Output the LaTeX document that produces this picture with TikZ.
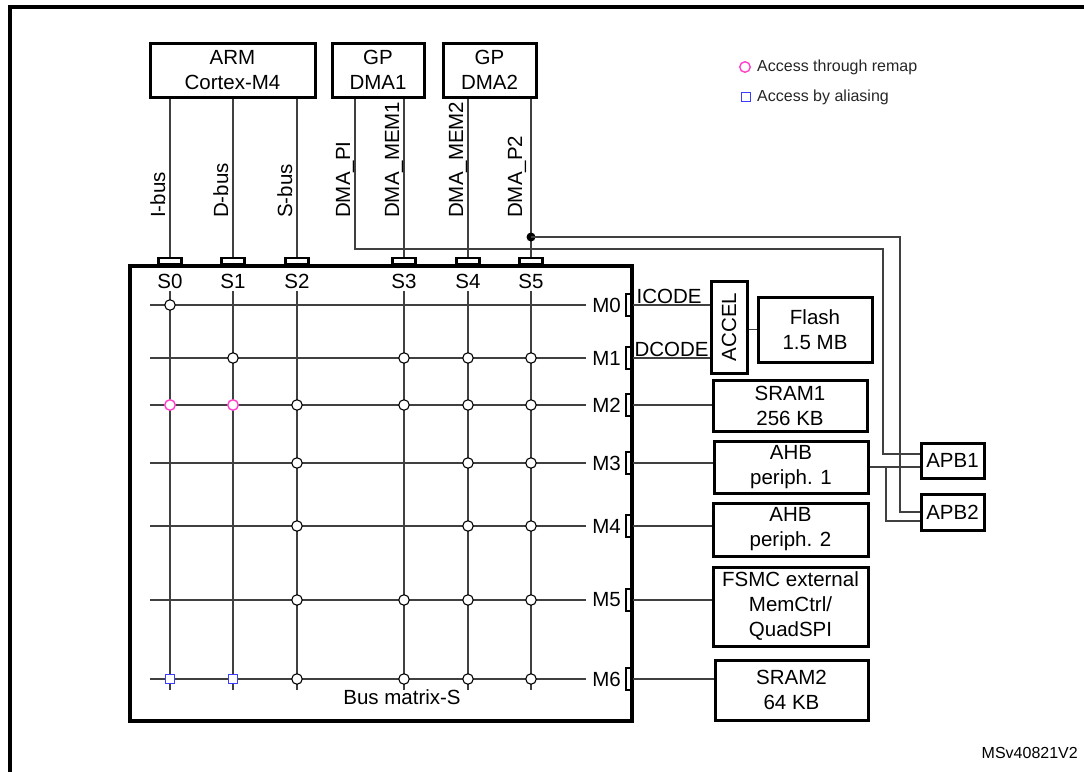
\documentclass[tikz,border=0pt]{standalone}
\usepackage{fontspec}
\setmainfont{Liberation Sans}
\definecolor{remapcol}{RGB}{255,64,200}
\definecolor{aliascol}{RGB}{60,60,255}
\begin{document}
\begin{tikzpicture}[
    x=1pt, y=-1pt,
    lbl/.style={font=\fontsize{20.5}{25}\selectfont, inner sep=0pt},
    keylbl/.style={font=\fontsize{16}{19}\selectfont, inner sep=0pt, text=black!85},
    block/.style={draw, line width=3pt, inner sep=0pt, align=center,
                  font=\fontsize{20.5}{25}\selectfont},
    sport/.style={draw, line width=2.8pt, minimum width=23pt,
                  minimum height=6pt, inner sep=0pt},
    mport/.style={draw, line width=2.8pt, minimum width=6pt,
                  minimum height=22pt, inner sep=0pt},
    wire/.style={line width=1.2pt, color=black!75},
    buslbl/.style={lbl, rotate=90, anchor=base west},
    xing/.style={circle, draw, fill=white, line width=1.1pt,
                 minimum size=10.5pt, inner sep=0pt},
    remap/.style={xing, draw=remapcol, line width=1.4pt},
    alias/.style={rectangle, draw=aliascol, fill=white, line width=1.4pt,
                  minimum size=8.5pt, inner sep=0pt}
]

% --- FRAME ---
\useasboundingbox (0,0) rectangle (1084,771);
\draw[line width=3.5pt] (10,780) -- (10,7) -- (1090,7);

% --- MASTERS ---
\node[block, minimum width=165pt, minimum height=54pt] (arm) at (232.5,70) {ARM\\Cortex-M4};
\node[block, minimum width=92pt, minimum height=54pt] (dmaone) at (378,70) {GP\\DMA1};
\node[block, minimum width=93pt, minimum height=54pt] (dmatwo) at (489.5,70) {GP\\DMA2};

% --- LEGEND ---
\node[remap] (remapkey) at (745,67) {};
\node[keylbl, anchor=west] (remaptxt) at (757,67) {Access through remap};
\node[alias] (aliaskey) at (746,97) {};
\node[keylbl, anchor=west] (aliastxt) at (757,97) {Access by aliasing};

% --- BUS MATRIX ---
\node[draw, line width=3.3pt, minimum width=502pt, minimum height=455pt] (bm) at (381,493.5) {};
\node[lbl] (bmlbl) at (402,697) {Bus matrix-S};

% slave ports on top edge
\foreach \n/\x in {0/170,1/233,2/297,3/404,4/468,5/531}{
  \node[sport] (s\n) at (\x,261) {};
  \node[lbl] (s\n lbl) at (\x,281) {S\n};
  \coordinate (c\n) at (\x,690);
  \draw[wire] ([yshift=-3pt]s\n lbl.south) -- (c\n);
}

% master ports on right edge
\foreach \n/\y in {0/305,1/358,2/405,3/463,4/526,5/600,6/679}{
  \node[mport] (m\n) at (629,\y) {};
  \node[lbl, anchor=east] (m\n lbl) at (621,\y) {M\n};
  \coordinate (r\n) at (150,\y);
  \draw[wire] (r\n) -- ([xshift=-6pt]m\n lbl.west);
}

% crossings
\foreach \c/\r in {0/0, 1/1,3/1,4/1,5/1, 2/2,3/2,4/2,5/2, 2/3,4/3,5/3,
                   2/4,4/4,5/4, 2/5,3/5,4/5,5/5, 2/6,3/6,4/6,5/6}
  \node[xing] (x\c\r) at (s\c |- r\r) {};
\node[remap] (x02) at (s0 |- r2) {};
\node[remap] (x12) at (s1 |- r2) {};
\node[alias] (x06) at (s0 |- r6) {};
\node[alias] (x16) at (s1 |- r6) {};

% --- BUSES FROM MASTERS ---
\draw[wire] (s0.north) -- (s0.north |- arm.south);
\draw[wire] (s1.north) -- (s1.north |- arm.south);
\draw[wire] (s2.north) -- (s2.north |- arm.south);
\draw[wire] (s3.north) -- (s3.north |- dmaone.south);
\draw[wire] (s4.north) -- (s4.north |- dmatwo.south);
\draw[wire] (s5.north) -- (s5.north |- dmatwo.south);

\node[buslbl] (ibus) at (165,218) {I-bus};
\node[buslbl] (dbus) at (228,218) {D-bus};
\node[buslbl] (sbus) at (292,218) {S-bus};
\node[buslbl] (dmapi) at (350,218) {DMA\_PI};
\node[buslbl] (dmamemone) at (399,218) {DMA\_MEM1};
\node[buslbl] (dmamemtwo) at (463,218) {DMA\_MEM2};
\node[buslbl] (dmaptwo) at (522,218) {DMA\_P2};

% --- SLAVES ---
\node[block, rotate=90, minimum width=92pt, minimum height=36pt] (accel) at (729,327) {ACCEL};
\node[block, minimum width=114pt, minimum height=65pt] (flash) at (815,329.5) {Flash\\1.5 MB};
\node[block, minimum width=154pt, minimum height=51pt] (sramone) at (790,405.5) {SRAM1\\256 KB};
\node[block, minimum width=154pt, minimum height=52pt] (ahbone) at (791,467) {AHB\\periph. 1};
\node[block, minimum width=155pt, minimum height=53pt] (ahbtwo) at (790.5,529.5) {AHB\\periph. 2};
\node[block, minimum width=155pt, minimum height=79pt] (fsmc) at (790.5,606.5) {FSMC external\\MemCtrl/\\QuadSPI};
\node[block, minimum width=153pt, minimum height=60pt] (sramtwo) at (791.5,690) {SRAM2\\64 KB};
\node[block, minimum width=63pt, minimum height=35pt] (apbone) at (952.5,460.5) {APB1};
\node[block, minimum width=63pt, minimum height=36pt] (apbtwo) at (952.5,512) {APB2};

% --- MATRIX -> SLAVES ---
\draw[wire] (m0.east) -- (accel.north |- m0.east);
\node[lbl, anchor=south west] (icode) at ([xshift=3pt,yshift=1.5pt]m0.east) {ICODE};
\draw[wire] (m1.east) -- (accel.north |- m1.east);
\node[lbl, anchor=south west] (dcode) at ([xshift=1pt,yshift=1.5pt]m1.east) {DCODE};
\draw[wire] (accel.south |- flash.west) -- (flash.west);
\draw[wire] (m2.east) -- (sramone.west |- m2.east);
\draw[wire] (m3.east) -- (ahbone.west |- m3.east);
\draw[wire] (m4.east) -- (ahbtwo.west |- m4.east);
\draw[wire] (m5.east) -- (fsmc.west |- m5.east);
\draw[wire] (m6.east) -- (sramtwo.west |- m6.east);

% --- APB BRIDGES ---
\draw[wire] (dmaone.south -| 355,0) |- (883,249) |- ([yshift=6.5pt]apbone.west);
\node[circle, fill, inner sep=0pt, minimum size=9pt] (junc) at (s5 |- 0,237) {};
\draw[wire] (junc.center) -| (900,512) -- (apbtwo.west);
\draw[wire] (ahbone.east) -- (apbone.west |- ahbone.east);
\coordinate (brk) at (886,467);
\draw[wire] (brk) |- ([yshift=-9pt]apbtwo.west);

\node[keylbl, text=black, anchor=base east] (ref) at (1078,758) {MSv40821V2};

\end{tikzpicture}
\end{document}
